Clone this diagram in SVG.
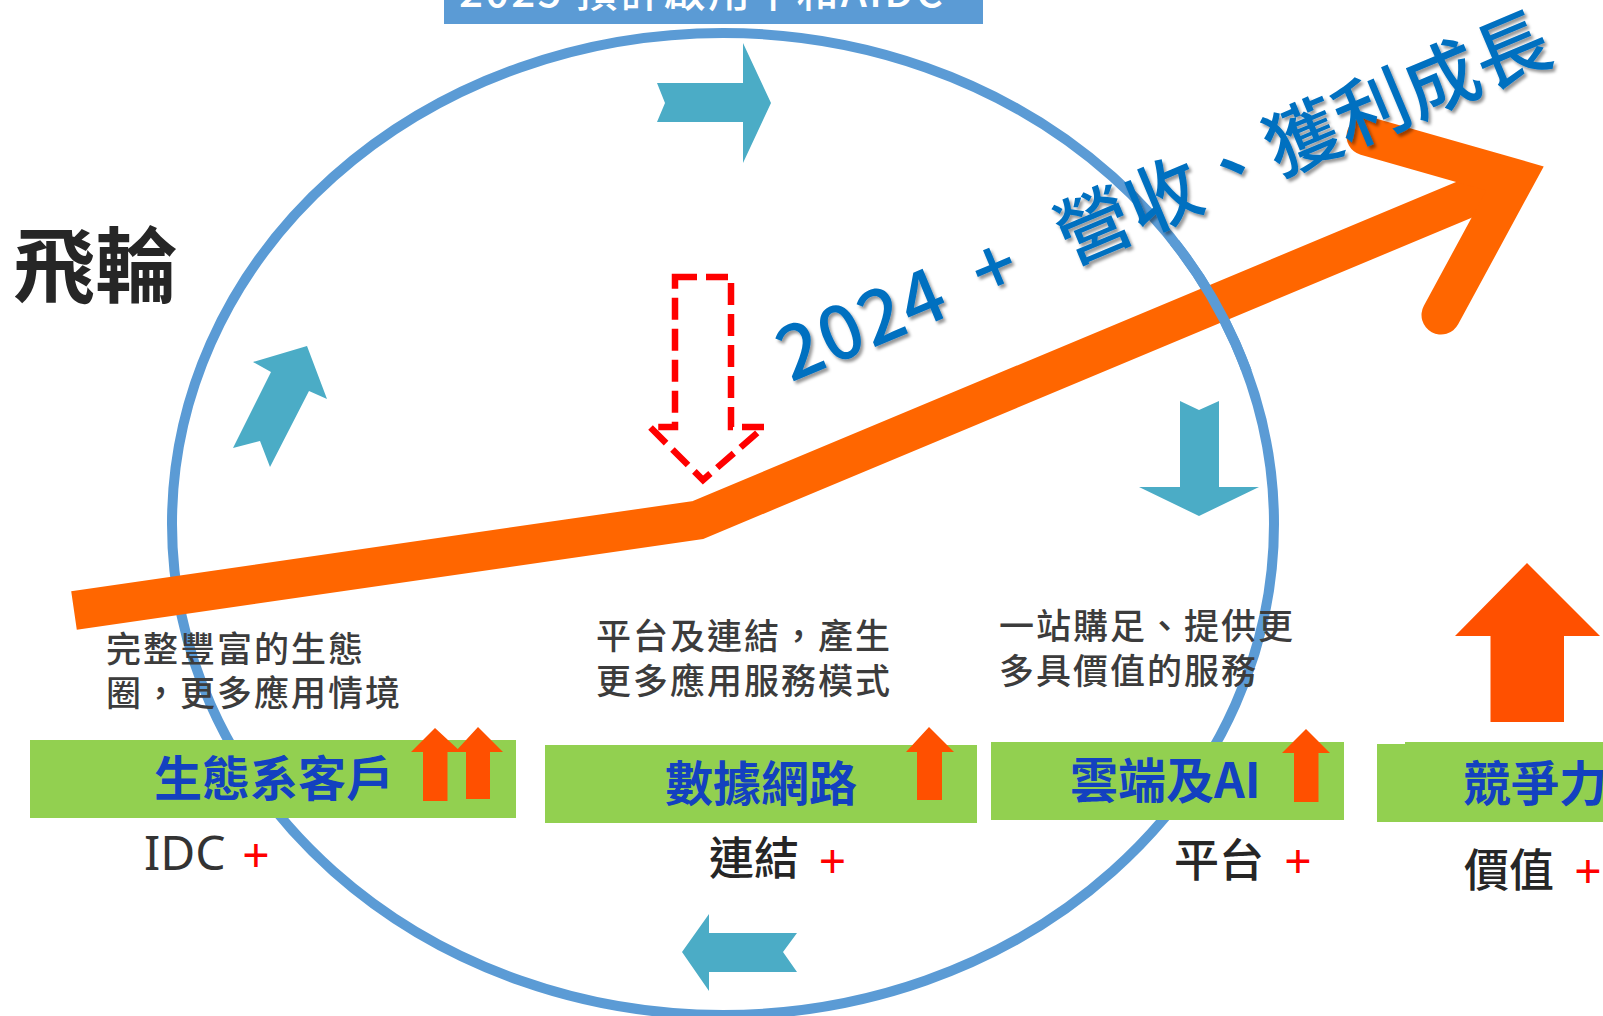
<svg xmlns="http://www.w3.org/2000/svg" width="1603" height="1016" viewBox="0 0 1603 1016">
<defs>
<style>
.cjk{font-family:"Noto Sans CJK TC","Noto Sans CJK SC",sans-serif;}
.lat{font-family:"Noto Sans","Noto Sans CJK TC",sans-serif;}
.teal{fill:#4BACC6;}
.up{fill:#FF5000;}
.box{fill:#92D050;}
.boxtxt{font-family:"Noto Sans CJK TC",sans-serif;font-size:48px;font-weight:700;fill:#1341C0;}
.desc{font-family:"Noto Sans CJK TC",sans-serif;font-size:35px;font-weight:500;fill:#3C3C3C;letter-spacing:2px;}
.lbl{font-family:"Noto Sans CJK TC",sans-serif;font-size:45px;font-weight:500;fill:#262626;}
.plus{font-family:"Noto Sans",sans-serif;font-size:48px;fill:#FF0000;text-anchor:middle;}
.big{font-family:"Noto Sans CJK TC",sans-serif;font-size:75px;font-weight:500;fill:#0070C0;}
</style>
<filter id="sh" x="-10%" y="-20%" width="125%" height="145%">
<feDropShadow dx="2.5" dy="3" stdDeviation="1.8" flood-color="#000" flood-opacity="0.4"/>
</filter>
<clipPath id="cr"><rect x="1170" y="240" width="90" height="130"/></clipPath>
</defs>

<g id="ring">
<ellipse cx="723" cy="524" rx="551" ry="491" fill="none" stroke="#5B9BD5" stroke-width="10"/>
</g>

<g id="cycle-arrows">
<polygon class="teal" points="657,83 743,83 743,43 771,103 743,163 743,122 657,122 665,103"/>
<polygon class="teal" points="1180,401 1199,410 1219,401 1219,487 1259,487 1199,516 1139,487 1180,487"/>
<polygon class="teal" points="682,952 709,914 709,933 797,933 783,952 797,972 709,972 709,991"/>
<polygon class="teal" points="307,346 327,399 309,391 270,467 260,441 233,448 271,372 253,362"/>
</g>

<g id="dashed-arrow">
<polygon points="675,277 731,277 731,427 764,427 703,480 650,427 675,427" fill="none" stroke="#FF0000" stroke-width="6.5" stroke-dasharray="22 9"/>
</g>

<g id="connectors">
<polyline points="74,610.5 698,520 1515,178.5" fill="none" stroke="#FF6600" stroke-width="39" stroke-linejoin="miter" stroke-linecap="butt"/>
<polyline points="1366,136 1515,178.5 1441,315" fill="none" stroke="#FF6600" stroke-width="39" stroke-linejoin="miter" stroke-miterlimit="10" stroke-linecap="round"/>
</g>

<g id="ring-overlay" clip-path="url(#cr)">
<ellipse cx="723" cy="524" rx="551" ry="491" fill="none" stroke="#5B9BD5" stroke-width="10"/>
</g>

<g id="title-flywheel">
<text class="cjk" x="13" y="296" font-size="82" font-weight="700" fill="#262626">飛輪</text>
</g>

<g id="growth-text" filter="url(#sh)">
<g transform="translate(788,376) rotate(-22.8)">
<text class="big" x="0" y="7" font-size="80" textLength="175" lengthAdjust="spacing">2024</text>
<text class="big" x="232" y="7" font-size="80" text-anchor="middle">+</text>
<text class="big" x="302.5" y="7" textLength="528" lengthAdjust="spacing">營收、獲利成長</text>
</g>
</g>

<g id="top-box">
<rect x="444" y="-2" width="539" height="26" fill="#5B9BD5"/>
<text class="cjk" x="459" y="7" font-size="42" font-weight="500" fill="#FFFFFF" textLength="484" lengthAdjust="spacing">2025 預計啟用中和AIDC</text>
</g>

<g id="desc-ecosystem">
<text class="desc" x="106" y="662">完整豐富的生態</text>
<text class="desc" x="106" y="706">圈，更多應用情境</text>
</g>
<g id="desc-network">
<text class="desc" x="596" y="649">平台及連結，產生</text>
<text class="desc" x="596" y="694">更多應用服務模式</text>
</g>
<g id="desc-cloud">
<text class="desc" x="999" y="639">一站購足、提供更</text>
<text class="desc" x="999" y="684">多具價值的服務</text>
</g>

<g id="node-ecosystem">
<rect class="box" x="30" y="740" width="486" height="78"/>
<text class="boxtxt" x="154" y="796">生態系客戶</text>
<polygon class="up" points="435,728 461,752 447.5,752 447.5,801 423,801 423,752 411,752"/>
<polygon class="up" points="478,727 503,752 490,752 490,799 466,799 466,752 455,752"/>
</g>

<g id="node-network">
<rect class="box" x="545" y="745" width="432" height="78"/>
<text class="boxtxt" x="665" y="801">數據網路</text>
<polygon class="up" points="929,727 954,752 942,752 942,800 917,800 917,752 906,752"/>
</g>

<g id="node-cloud">
<rect class="box" x="991" y="742" width="353" height="78"/>
<text class="boxtxt" x="1070" y="798">雲端及AI</text>
<polygon class="up" points="1306,729 1330,753 1318.5,753 1318.5,802 1294,802 1294,753 1282,753"/>
</g>

<g id="node-competitiveness">
<rect class="box" x="1377" y="744" width="226" height="78"/>
<rect class="box" x="1405" y="742" width="198" height="4"/>
<text class="boxtxt" x="1463" y="801">競爭力</text>
<polygon class="up" points="1527,563 1600,636 1564,636 1564,722 1490.5,722 1490.5,636 1455,636"/>
</g>

<g id="label-idc">
<text class="lat" x="144" y="870" font-size="48" fill="#333333">IDC</text>
<text class="plus" x="256" y="872">+</text>
</g>
<g id="label-link">
<text class="lbl" x="709" y="875">連結</text>
<text class="plus" x="832.5" y="878">+</text>
</g>
<g id="label-platform">
<text class="lbl" x="1174" y="877">平台</text>
<text class="plus" x="1298" y="878">+</text>
</g>
<g id="label-value">
<text class="lbl" x="1464" y="887">價值</text>
<text class="plus" x="1588" y="888">+</text>
</g>
</svg>
